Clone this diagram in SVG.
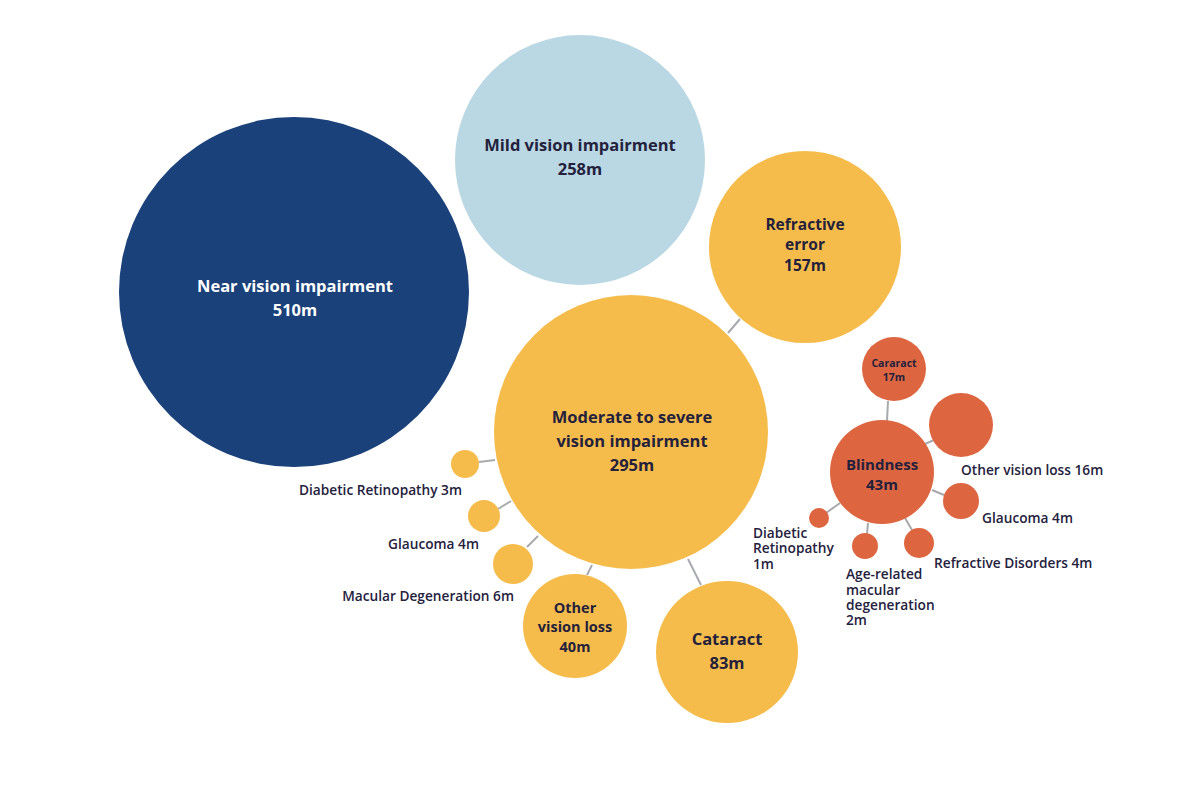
<svg xmlns="http://www.w3.org/2000/svg" width="1200" height="790" viewBox="0 0 1200 790">
<style>
.navy{fill:#1a4179}
.light{fill:#bad7e4}
.yel{fill:#f5bc4b}
.org{fill:#dd6641}
text{font-family:"Open Sans","Noto Sans","Liberation Sans",sans-serif;font-weight:700;fill:#24213d}
.w{fill:#ffffff}
.c{text-anchor:middle}
.lbl{font-weight:600;font-size:13.7px}
.e{text-anchor:end}
.conn line{stroke:#a7a9ac;stroke-width:2}
</style>
<rect width="1200" height="790" fill="#ffffff"/>
<g class="conn" id="connectors">
<line x1="728" y1="333" x2="740" y2="319"/>
<line x1="688" y1="559" x2="701" y2="585"/>
<line x1="587" y1="575" x2="592" y2="565"/>
<line x1="527" y1="547" x2="538" y2="536"/>
<line x1="498" y1="509" x2="511" y2="501"/>
<line x1="479" y1="462" x2="495" y2="460"/>
<line x1="888" y1="401" x2="887" y2="421"/>
<line x1="925" y1="444" x2="934" y2="440"/>
<line x1="932" y1="490" x2="944" y2="495"/>
<line x1="905" y1="518" x2="912" y2="530"/>
<line x1="868" y1="523" x2="867" y2="534"/>
<line x1="840" y1="503" x2="826" y2="513"/>
</g>
<g id="near"><circle class="navy" cx="294" cy="292" r="175"/><text class="c w" x="295" y="292" font-size="16.5">Near vision impairment<tspan x="295" y="316">510m</tspan></text></g>
<g id="mild"><circle class="light" cx="580" cy="160" r="125"/><text class="c" x="580" y="151" font-size="16.5">Mild vision impairment<tspan x="580" y="175">258m</tspan></text></g>
<g id="refractive"><circle class="yel" cx="805" cy="247" r="96"/><text class="c" x="805" y="230" font-size="15.5">Refractive<tspan x="805" y="250">error</tspan><tspan x="805" y="271">157m</tspan></text></g>
<g id="moderate"><circle class="yel" cx="631" cy="432" r="137"/><text class="c" x="632" y="423" font-size="16.5">Moderate to severe<tspan x="632" y="447">vision impairment</tspan><tspan x="632" y="471">295m</tspan></text></g>
<g id="cataract"><circle class="yel" cx="727" cy="652" r="71"/><text class="c" x="727" y="645" font-size="16.5">Cataract<tspan x="727" y="669">83m</tspan></text></g>
<g id="other40"><circle class="yel" cx="575" cy="626" r="52"/><text class="c" x="575" y="613" font-size="14.5">Other<tspan x="575" y="632">vision loss</tspan><tspan x="575" y="652">40m</tspan></text></g>
<g id="dr3"><circle class="yel" cx="465" cy="464" r="14"/><text class="lbl e" x="462" y="495">Diabetic Retinopathy 3m</text></g>
<g id="gl4"><circle class="yel" cx="484" cy="516" r="16"/><text class="lbl e" x="479" y="549">Glaucoma 4m</text></g>
<g id="md6"><circle class="yel" cx="513" cy="564" r="20"/><text class="lbl e" x="514" y="601">Macular Degeneration 6m</text></g>
<g id="blindness"><circle class="org" cx="882" cy="472" r="52"/><text class="c" x="882" y="470" font-size="15">Blindness<tspan x="882" y="490">43m</tspan></text></g>
<g id="cararact17"><circle class="org" cx="894" cy="369" r="32"/><text class="c" x="894" y="367" font-size="10.5">Cararact<tspan x="894" y="381">17m</tspan></text></g>
<g id="other16"><circle class="org" cx="961" cy="425" r="32"/><text class="lbl" x="961" y="475">Other vision loss 16m</text></g>
<g id="gl4b"><circle class="org" cx="961" cy="501" r="18"/><text class="lbl" x="982" y="523">Glaucoma 4m</text></g>
<g id="rd4"><circle class="org" cx="919" cy="543" r="15"/><text class="lbl" x="934" y="568">Refractive Disorders 4m</text></g>
<g id="amd2"><circle class="org" cx="865" cy="546" r="13"/><text class="lbl" x="846" y="579">Age-related<tspan x="846" y="595">macular</tspan><tspan x="846" y="610">degeneration</tspan><tspan x="846" y="625">2m</tspan></text></g>
<g id="dr1"><circle class="org" cx="819" cy="518" r="10"/><text class="lbl" x="753" y="538">Diabetic<tspan x="753" y="553">Retinopathy</tspan><tspan x="753" y="569">1m</tspan></text></g>
</svg>
